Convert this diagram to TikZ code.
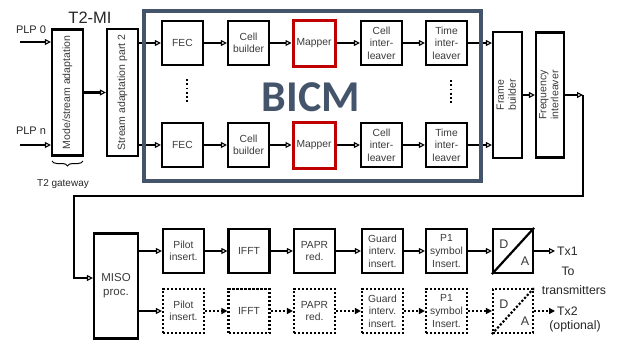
\documentclass[tikz,border=0pt]{standalone}
\usepackage{fontspec}
\setmainfont{Liberation Sans}
\newfontfamily\bicmfont{Carlito}
\usepackage{xcolor}
\usetikzlibrary{arrows.meta,decorations.pathreplacing}

\definecolor{bicmblue}{HTML}{44546A}
\definecolor{mapred}{HTML}{C00000}
\definecolor{txtgray}{HTML}{3A3A3A}

\tikzset{
  blk/.style={draw, line width=2.2pt, minimum width=41pt, minimum height=44pt, inner sep=0pt,
    align=center, text=txtgray, font=\fontsize{10.3}{12.6}\selectfont},
  optblk/.style={blk, dash pattern=on 2.2pt off 1.8pt},
  mapblk/.style={blk, draw=mapred, line width=3pt, minimum width=42pt, minimum height=46pt},
  vblk/.style={blk, font=\fontsize{10.5}{12}\selectfont},
  conn/.style={line width=2.2pt, -{Triangle[open, length=6pt, width=6pt, line width=1.1pt]}},
  optconn/.style={line width=2.2pt, dash pattern=on 2.2pt off 1.8pt, -{Triangle[length=6pt, width=6pt]}},
  vdots/.style={line width=2pt, dash pattern=on 1.8pt off 2.4pt},
  lbl/.style={inner sep=0pt, text=black!85}
}

\begin{document}
\begin{tikzpicture}[x=1pt, y=-1pt]
    \useasboundingbox (0,0) rectangle (618,343);

    \node[lbl, font=\fontsize{16.5}{16.5}\selectfont] (t2mi) at (90,18) {T2-MI};
    \node[lbl, font=\fontsize{11}{11}\selectfont] (plp0) at (31,30) {PLP 0};
    \node[lbl, font=\fontsize{11}{11}\selectfont] (plpn) at (31,131) {PLP n};
    \coordinate (in0) at (20,42);
    \coordinate (inn) at (20,145);

    \node[vblk, minimum width=31pt, minimum height=126pt] (mode) at (67.5,92.5)
      {\rotatebox{90}{Mode/stream adaptation}};
    \node[vblk, minimum width=31pt, minimum height=127pt] (stream) at (122.5,92.5)
      {\rotatebox{90}{Stream adaptation part 2}};

    \coordinate (gw1) at (52,161);
    \coordinate (gw2) at (83,161);
    \draw[line width=1pt, decorate, decoration={brace, mirror, amplitude=5pt}] (gw1) -- (gw2);
    \node[lbl, font=\fontsize{10}{10}\selectfont] (gw) at (63,184) {T2 gateway};

    \node[blk] (fec1) at (182.5,43) {FEC};
    \node[blk] (cb1) at (248.5,43) {Cell\\builder};
    \node[mapblk] (map1) at (314,43) {Mapper};
    \node[blk] (ci1) at (381.5,43) {Cell\\inter-\\leaver};
    \node[blk] (ti1) at (446.5,43) {Time\\inter-\\leaver};

    \node[blk] (fec2) at (182.5,145) {FEC};
    \node[blk] (cb2) at (248.5,145) {Cell\\builder};
    \node[mapblk] (map2) at (314,145) {Mapper};
    \node[blk] (ci2) at (381.5,145) {Cell\\inter-\\leaver};
    \node[blk] (ti2) at (446.5,145) {Time\\inter-\\leaver};

    \draw[vdots] ([xshift=4.5pt, yshift=-13pt]fec1.south) -- ([xshift=4.5pt, yshift=19pt]fec2.north);
    \draw[vdots] ([xshift=4.5pt, yshift=-14pt]ti1.south) -- ([xshift=4.5pt, yshift=19pt]ti2.north);

    \node[vblk, minimum width=29pt, minimum height=126pt] (frame) at (507.5,95)
      {\rotatebox{90}{\begin{tabular}{@{}c@{}}Frame\\builder\end{tabular}}};
    \node[vblk, minimum width=28pt, minimum height=125pt] (freq) at (550,95)
      {\rotatebox{90}{\begin{tabular}{@{}c@{}}Frequency\\interleaver\end{tabular}}};

    \draw[conn] (in0) -- (mode.west |- in0);
    \draw[conn] (inn) -- (mode.west |- inn);
    \draw[conn] (mode) -- (stream);
    \draw[conn] (stream.east |- fec1) -- (fec1);
    \draw[conn] (stream.east |- fec2) -- (fec2);
    \foreach \a/\b in {fec1/cb1, cb1/map1, map1/ci1, ci1/ti1, fec2/cb2, cb2/map2, map2/ci2, ci2/ti2}
      \draw[conn] (\a) -- (\b);
    \draw[conn] (ti1) -- (ti1 -| frame.west);
    \draw[conn] (ti2) -- (ti2 -| frame.west);
    \draw[conn] (frame) -- (freq);

    \draw[bicmblue, line width=3.5pt] (144,11) rectangle (481,181);
    \node[text=bicmblue, inner sep=0pt, font={\fontsize{44}{44}\bicmfont\bfseries}] (bicm) at (311,97) {BICM};

    \coordinate (t1) at (583,95);
    \coordinate (t2) at (583,196);
    \coordinate (t3) at (74,196);
    \coordinate (t4) at (74,278);
    \node[blk, minimum width=44pt, minimum height=105pt, font=\fontsize{11.5}{14}\selectfont] (miso) at (116,286) {MISO\\proc.};
    \draw[conn] (freq) -- (t1);
    \draw[conn] (t1) -- (t2) -- (t3) -- (t4) -- (miso.west |- t4);

    \node[blk] (pil1) at (183.5,251) {Pilot\\insert.};
    \node[blk] (ifft1) at (249,251) {IFFT};
    \node[blk] (papr1) at (314.5,251) {PAPR\\red.};
    \node[blk] (gi1) at (382.5,251) {Guard\\interv.\\insert.};
    \node[blk] (p1s1) at (446.5,251) {P1\\symbol\\Insert.};
    \node[blk, minimum width=40pt] (da1) at (513,251) {};
    \draw[line width=2.2pt] (da1.south west) -- (da1.north east);
    \node[lbl, text=txtgray, font=\fontsize{12.5}{12.5}\selectfont] (d1) at ([shift={(-9pt,7pt)}]da1.center) {D};
    \node[lbl, text=txtgray, font=\fontsize{12.5}{12.5}\selectfont] (a1) at ([shift={(12pt,-10pt)}]da1.center) {A};

    \node[optblk] (pil2) at (183.5,311) {Pilot\\insert.};
    \node[optblk] (ifft2) at (249,311) {IFFT};
    \node[optblk] (papr2) at (314.5,311) {PAPR\\red.};
    \node[optblk] (gi2) at (382.5,311) {Guard\\interv.\\insert.};
    \node[optblk] (p1s2) at (446.5,311) {P1\\symbol\\Insert.};
    \node[optblk, minimum width=40pt] (da2) at (513,311) {};
    \draw[line width=2.2pt, dash pattern=on 2.2pt off 1.8pt] (da2.south west) -- (da2.north east);
    \node[lbl, text=txtgray, font=\fontsize{12.5}{12.5}\selectfont] (d2) at ([shift={(-9pt,7pt)}]da2.center) {D};
    \node[lbl, text=txtgray, font=\fontsize{12.5}{12.5}\selectfont] (a2) at ([shift={(12pt,-10pt)}]da2.center) {A};

    \draw[conn] (miso.east |- pil1) -- (pil1);
    \draw[conn] (miso.east |- pil2) -- (pil2);
    \foreach \a/\b in {pil1/ifft1, ifft1/papr1, papr1/gi1, gi1/p1s1, p1s1/da1}
      \draw[conn] (\a) -- (\b);
    \foreach \a/\b in {pil2/ifft2, ifft2/papr2, papr2/gi2, gi2/p1s2, p1s2/da2}
      \draw[optconn] (\a) -- (\b);

    \node[lbl, anchor=west, font=\fontsize{12.3}{12.3}\selectfont] (tx1) at (557,251) {Tx1};
    \node[lbl, font=\fontsize{12.3}{12.3}\selectfont] (tolab) at (568,271) {To};
    \node[lbl, font=\fontsize{12.3}{12.3}\selectfont] (trlab) at (574,290) {transmitters};
    \node[lbl, anchor=west, font=\fontsize{12.3}{12.3}\selectfont] (tx2) at (557,311) {Tx2};
    \node[lbl, font=\fontsize{12.3}{12.3}\selectfont] (optlab) at (575,326) {(optional)};
    \draw[conn] (da1) -- ([xshift=-2pt]tx1.west);
    \draw[optconn] (da2) -- ([xshift=-2pt]tx2.west);
  \end{tikzpicture}
\end{document}
